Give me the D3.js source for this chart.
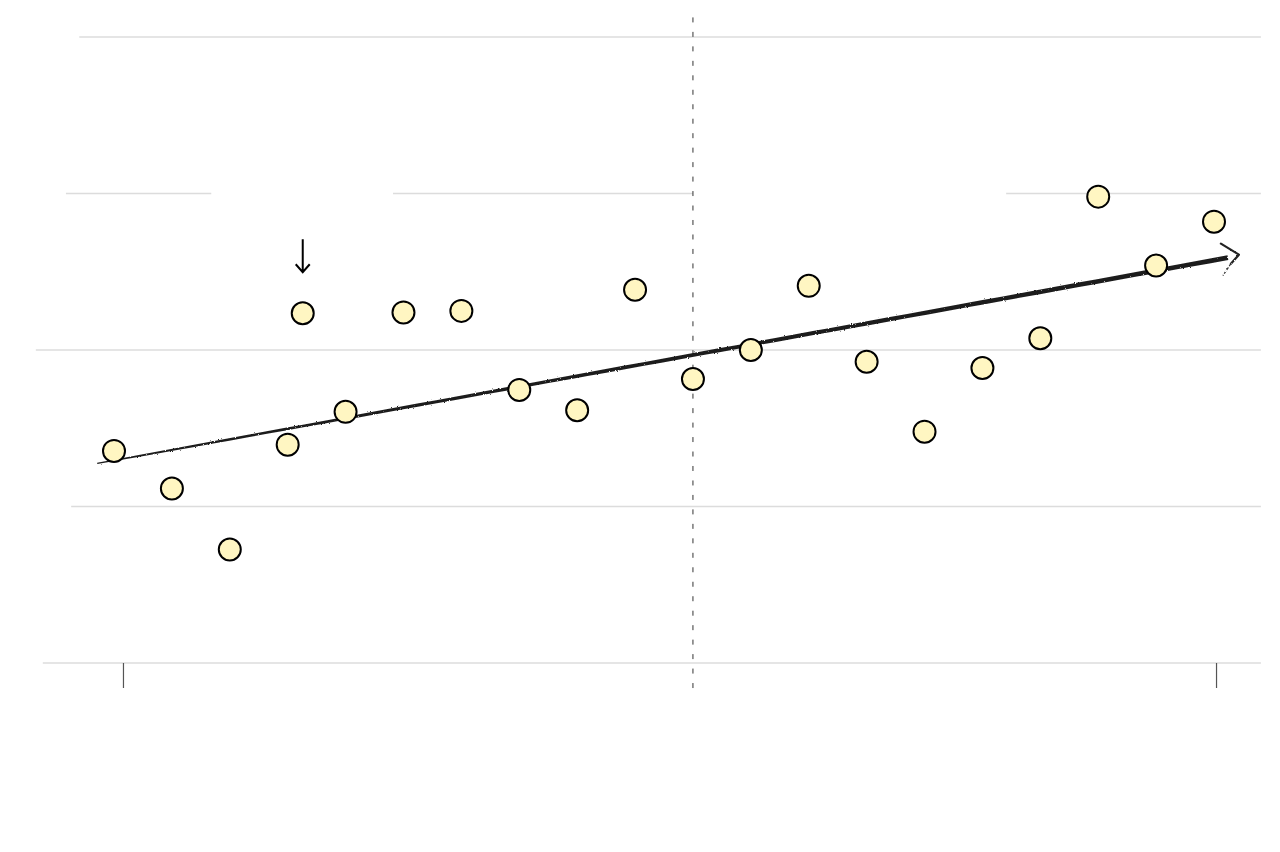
<!DOCTYPE html>
<html lang="en">
<head>
<meta charset="UTF-8">
<title>Trend</title>
<script src="https://cdn.jsdelivr.net/npm/d3@7"></script>
<style>
  body { margin: 0; background: #fff; }
  svg { display: block; }
</style>
</head>
<body>
<div id="chart"></div>
<script>
    // Data
    var xs = [0, 1, 2, 3, 3.26, 4, 5, 6, 7, 8, 9, 10, 11, 12, 13, 14, 15, 16, 17, 18, 19];
    var ys = [1.355, 1.115, 0.725, 1.395, 2.235, 1.605, 2.24, 2.25, 1.745, 1.615, 2.385, 1.815,
              2.0, 2.41, 1.925, 1.478, 1.885, 2.075, 2.98, 2.54, 2.82];
    var yGrid = [0, 1, 2, 3, 4];
    var gridStart = [-1.23, -0.74, -1.35, -0.83, -0.60];
    var gridEnd = 19.81;
    var gridGaps = [[3, 1.68, 4.82], [3, 10, 15.41]];   // [grid value, from x, to x]
    var xTicks = [0.155, 19.035];
    var vLine = 10;
    var trend = [[-0.29, 1.275], [19.24, 2.59]];
    var flagged = 4;   // index of the point with the arrow

    var width = 1280, height = 852;

    var svg = d3.select("#chart")
        .append("svg")
        .attr("width", width)
        .attr("height", height);

    var x = d3.scaleLinear().domain([0, 19]).range([114, 1214]);
    var y = d3.scaleLinear().domain([0, 4]).range([663, 37]);

    // rough pen filter
    var defs = svg.append("defs");
    var f = defs.append("filter").attr("id", "rough")
        .attr("x", "-5%").attr("y", "-50%").attr("width", "110%").attr("height", "200%");
    f.append("feTurbulence").attr("type", "fractalNoise")
        .attr("baseFrequency", 0.7).attr("numOctaves", 2).attr("result", "n");
    f.append("feDisplacementMap").attr("in", "SourceGraphic").attr("in2", "n")
        .attr("scale", 2.2);

    // Gridlines
    yGrid.forEach(function(v, i) {
        svg.append("line")
            .attr("x1", x(gridStart[i])).attr("x2", x(gridEnd))
            .attr("y1", y(v)).attr("y2", y(v))
            .attr("stroke", "#dcdcdc").attr("stroke-width", 1.5);
    });
    gridGaps.forEach(function(g) {
        svg.append("rect")
            .attr("x", x(g[1])).attr("width", x(g[2]) - x(g[1]))
            .attr("y", y(g[0]) - 2).attr("height", 4)
            .attr("fill", "#fff");
    });

    // X ticks
    var xAxis = svg.append("g")
        .attr("transform", "translate(0," + y(0) + ")")
        .call(d3.axisBottom(x).tickValues(xTicks).tickSize(25).tickFormat(""));
    xAxis.select(".domain").remove();
    xAxis.selectAll("line").attr("stroke", "#555").attr("stroke-width", 1.2);

    // Dashed vertical line
    svg.append("line")
        .attr("x1", x(vLine)).attr("x2", x(vLine))
        .attr("y1", y(-0.16)).attr("y2", y(4.144))
        .attr("stroke", "#333").attr("stroke-width", 1)
        .attr("stroke-dasharray", "5,9.47");

    // Trend line, tapered and sketchy
    var x0 = x(trend[0][0]), y0 = y(trend[0][1]);
    var x1 = x(trend[1][0]), y1 = y(trend[1][1]);
    var len = Math.hypot(x1 - x0, y1 - y0);
    var nx = -(y1 - y0) / len, ny = (x1 - x0) / len;
    var upper = [], lower = [];
    d3.range(0, 61).forEach(function(k) {
        var t = k / 60;
        var w = 0.6 + 1.8 * Math.sqrt(t);
        var px = x0 + (x1 - x0) * t, py = y0 + (y1 - y0) * t;
        upper.push([px + nx * w, py + ny * w]);
        lower.push([px - nx * w, py - ny * w]);
    });
    var poly = upper.concat(lower.reverse());
    svg.append("path")
        .attr("d", d3.line()(poly) + "Z")
        .attr("fill", "#1e1e1e")
        .attr("filter", "url(#rough)");

    // Arrow head
    svg.append("path")
        .attr("d", d3.line()([[x1 - 7, y1 - 14], [x1 + 11, y1 - 3], [x1 + 3, y1 + 6]]))
        .attr("fill", "none").attr("stroke", "#222").attr("stroke-width", 2.2)
        .attr("stroke-linecap", "round").attr("stroke-linejoin", "round")
        .attr("filter", "url(#rough)");
    svg.append("path")
        .attr("d", d3.line()([[x1 + 3, y1 + 6], [x1 - 5, y1 + 18]]))
        .attr("fill", "none").attr("stroke", "#333").attr("stroke-width", 1.2)
        .attr("stroke-dasharray", "3,1.5")
        .attr("filter", "url(#rough)");

    // Points
    svg.selectAll("circle.pt")
        .data(xs.map(function(d, i) { return [d, ys[i]]; }))
        .enter()
        .append("circle")
        .attr("class", "pt")
        .attr("cx", function(d) { return x(d[0]); })
        .attr("cy", function(d) { return y(d[1]); })
        .attr("r", 11)
        .attr("fill", "#fff6c2")
        .attr("stroke", "#000")
        .attr("stroke-width", 2);

    // Arrow pointing at the flagged point
    var ax = x(xs[flagged]), ay = y(ys[flagged]);
    svg.append("path")
        .attr("d", "M" + ax + "," + (ay - 74) + "V" + (ay - 41)
            + "M" + (ax - 7) + "," + (ay - 49) + "L" + ax + "," + (ay - 41)
            + "L" + (ax + 7) + "," + (ay - 49))
        .attr("fill", "none").attr("stroke", "#000").attr("stroke-width", 2);
</script>
</body>
</html>
